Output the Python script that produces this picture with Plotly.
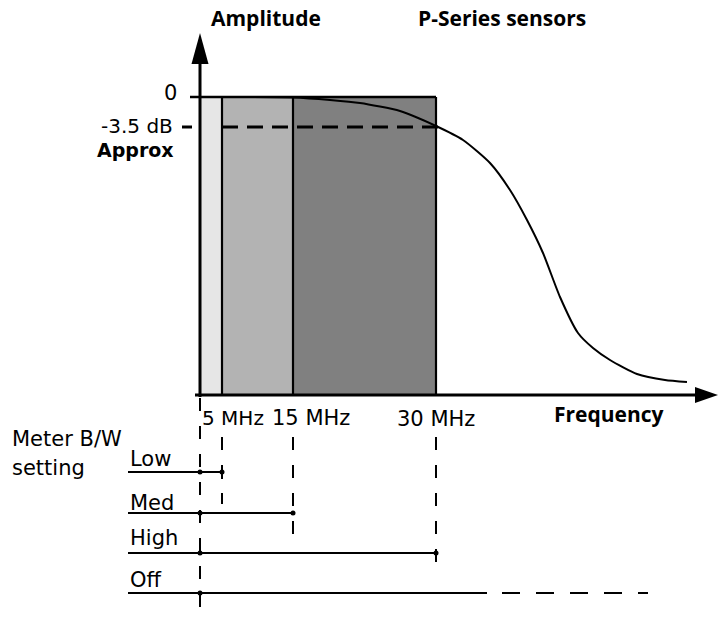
import plotly.graph_objects as go

# ---- data (diagram coordinates) ----
freq_labels = ["5 MHz", "15 MHz", "30 MHz"]
band_edges = [200, 222, 293, 436]          # 0, 5, 15, 30 MHz on the frequency axis
amp_zero = 97                               # 0 dB level
amp_35 = 127                                # -3.5 dB level
axis_base = 395
settings = ["Low", "Med", "High", "Off"]
setting_rows = [472, 513, 553, 593]
setting_ends = [222, 293, 436, 487]
off_dash_end = 648
curve_x = [200, 240, 293, 330, 360, 400, 436, 463, 490, 510, 527, 543, 560, 578, 593, 610, 637, 665, 687]
curve_y = [97, 97, 97.5, 100, 103, 111, 126, 140, 163, 190, 220, 253, 297, 333, 348, 360, 374, 380, 382]

FONT = "DejaVu Sans"
BFONT = "Open Sans"
FS = 21
FSB = 21
fig = go.Figure()

def line(xs, ys, width=2.5, dash=None, color="black"):
    fig.add_trace(go.Scatter(x=xs, y=ys, mode="lines",
                             line=dict(color=color, width=width, dash=dash),
                             hoverinfo="skip", showlegend=False))

def poly(xs, ys, color):
    fig.add_trace(go.Scatter(x=xs, y=ys, mode="lines", fill="toself", fillcolor=color,
                             line=dict(width=0, color=color), hoverinfo="skip", showlegend=False))

# bands
band_colors = ["#e6e6e6", "#b3b3b3", "#808080"]
for i in range(3):
    x0, x1 = band_edges[i], band_edges[i + 1]
    poly([x0, x1, x1, x0, x0], [amp_zero, amp_zero, axis_base, axis_base, amp_zero], band_colors[i])
# band borders
line([band_edges[0], band_edges[-1]], [amp_zero, amp_zero], 2.5)
for xe in band_edges[1:]:
    line([xe, xe], [amp_zero, axis_base], 2.2)

# -3.5 dB dashed
line([band_edges[1], band_edges[-1] + 3], [amp_35, amp_35], 3, dash="16px,9px")
line([182, 192], [amp_35, amp_35], 3)
# 0 tick
line([190, 200], [amp_zero, amp_zero], 2.5)

# response curve
fig.add_trace(go.Scatter(x=curve_x, y=curve_y, mode="lines",
                         line=dict(color="black", width=2, shape="spline", smoothing=0.6),
                         hoverinfo="skip", showlegend=False))

# axes
line([200, 200], [62, axis_base + 2], 3)
poly([200, 208.5, 191.5, 200], [33, 64, 64, 33], "black")
line([195, 697], [axis_base, axis_base], 3.2)
poly([718, 695, 695, 718], [axis_base, axis_base - 8, axis_base + 8, axis_base], "black")

# vertical dashed guide lines
line([200, 200], [398, 621], 2, dash="13px,15px")
line([222, 222], [437, 504], 2, dash="13px,15px")
line([293, 293], [437, 545], 2, dash="13px,15px")
line([436, 436], [437, 571], 2, dash="13px,15px")

# setting rows
for name, yr, xe in zip(settings, setting_rows, setting_ends):
    line([128, xe], [yr, yr], 2.2)
    xs = [200, xe] if name != "Off" else [200]
    fig.add_trace(go.Scatter(x=xs, y=[yr] * len(xs), mode="markers",
                             marker=dict(color="black", size=5), hoverinfo="skip", showlegend=False))
line([502, off_dash_end], [setting_rows[3], setting_rows[3]], 2.2, dash="18px,16px")
line([222, 222], [465, 479], 2)

ann = []
def text(t, x, y, xanchor="left", bold=False, size=None, family=None):
    ann.append(dict(text=f"<b>{t}</b>" if bold else t, x=x, y=y, xref="x", yref="y",
                    xanchor=xanchor, yanchor="middle", showarrow=False,
                    font=dict(family=family or (BFONT if bold else FONT),
                              size=size or (FSB if bold else FS), color="black")))

text("Amplitude", 209, 18, bold=True)
text("P-Series sensors", 416, 18, bold=True)
text("0", 179, 92.5, xanchor="right")
text("-3.5 dB", 175, 126.3, xanchor="right", size=20)
text("Approx", 176, 149.5, xanchor="right", bold=True, size=19, family="DejaVu Sans")
text(freq_labels[0], 200, 417.7, size=20)
text(freq_labels[1], 270, 417.7)
text(freq_labels[2], 395, 419)
text("Frequency", 552, 413.5, bold=True)
text("Meter B/W", 10, 438.7)
text("setting", 10, 467.7)
for name, yc in zip(settings, [458.7, 502.7, 537.7, 579.7]):
    text(name, 128, yc)

fig.update_layout(width=718, height=621, margin=dict(l=0, r=0, t=0, b=0),
                  paper_bgcolor="white", plot_bgcolor="white",
                  xaxis=dict(range=[0, 718], visible=False, fixedrange=True),
                  yaxis=dict(range=[621, 0], visible=False, fixedrange=True),
                  annotations=ann, showlegend=False)
fig.write_html("out.html", config={"displayModeBar": False},
               post_script="document.body.style.margin='0px';document.body.style.overflow='hidden';")
